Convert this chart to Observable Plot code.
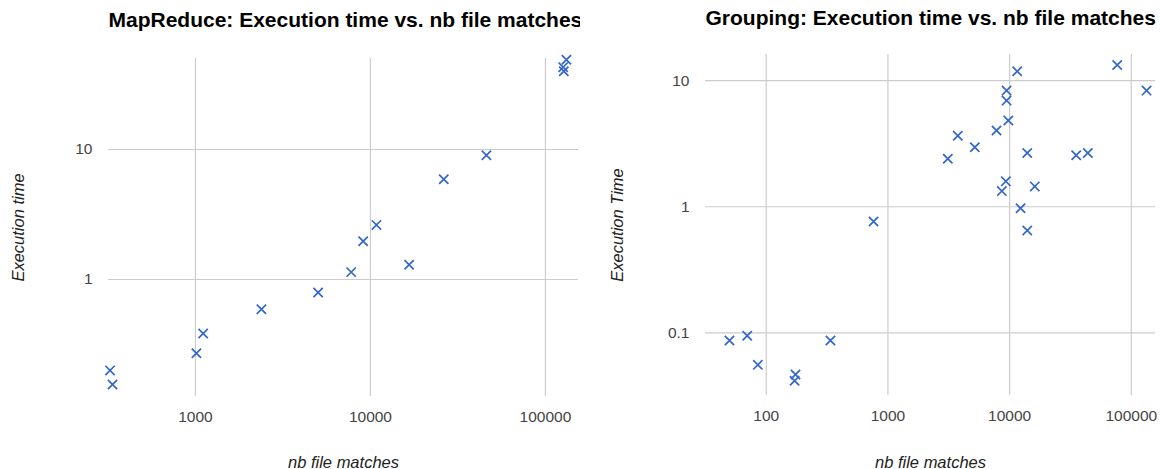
<!DOCTYPE html>
<html>
<head>
<meta charset="utf-8">
<script src="https://cdn.jsdelivr.net/npm/d3@7"></script>
<script src="https://cdn.jsdelivr.net/npm/@observablehq/plot@0.6"></script>
<style>
  html, body { margin: 0; padding: 0; background: #fff; }
  #wrap { display: flex; width: 1160px; height: 469px; }
  #wrap svg { display: block; }
  #wrap svg g[aria-label*="axis"], #wrap svg g[aria-label*="axis"] text { font-size: 15.5px !important; }
</style>
</head>
<body>
<div id="wrap"></div>
<script>
// MapReduce chart data
const mrTitle = "MapReduce: Execution time vs. nb file matches";
const mrYLabel = "Execution time";
const mrXLabel = "nb file matches";
const mrX = [325, 336, 1013, 1107, 2384, 5024, 7762, 9085, 10822, 16630, 26240, 46000, 126300, 127300, 131800];
const mrY = [0.2, 0.156, 0.271, 0.384, 0.591, 0.794, 1.14, 1.97, 2.63, 1.30, 5.91, 9.04, 43, 40, 49];
const mrXTicks = [1000, 10000, 100000];
const mrYTicks = [1, 10];

// Grouping chart data
const grTitle = "Grouping: Execution time vs. nb file matches";
const grYLabel = "Execution Time";
const grXLabel = "nb file matches";
const grX = [11540, 76600, 133400, 9440, 9440, 9750, 7800, 3750, 5175, 3105, 13960, 35240, 43900, 9310, 8630, 16100, 12300, 762, 13960, 49.9, 69.8, 85.3, 174, 171, 337];
const grY = [11.85, 13.3, 8.33, 8.33, 6.94, 4.82, 4.02, 3.65, 2.96, 2.40, 2.67, 2.56, 2.67, 1.59, 1.33, 1.45, 0.973, 0.764, 0.648, 0.087, 0.0949, 0.0558, 0.0468, 0.0417, 0.087];
const grXTicks = [100, 1000, 10000, 100000];
const grYTicks = [0.1, 1, 10];

const FONT = "'Liberation Sans', Arial, Helvetica, sans-serif";
const BLUE = "#3366cc";

function chart({title, xLabel, yLabel, xs, ys, xTicks, yTicks, xDomain, yDomain, margins, titleDy, xLabelDy, yLabelDx}) {
  const rows = xs.map((x, i) => ({x, y: ys[i]}));
  return Plot.plot({
    width: 580,
    height: 469,
    ...margins,
    style: {fontFamily: FONT, fontSize: "15.5px", color: "#444", background: "#fff", overflow: "visible"},
    x: {type: "log", domain: xDomain, ticks: xTicks, tickFormat: d => String(d), tickSize: 0, tickPadding: 14, label: null},
    y: {type: "log", domain: yDomain, ticks: yTicks, tickFormat: d => String(d), tickSize: 0, tickPadding: 16, label: null},
    marks: [
      Plot.ruleX(xTicks, {stroke: "#cccccc", strokeWidth: 1.2}),
      Plot.ruleY(yTicks, {stroke: "#cccccc", strokeWidth: 1.2}),
      Plot.dot(rows, {x: "x", y: "y", symbol: "times", r: 4.3, stroke: BLUE, strokeWidth: 1.7}),
      Plot.text([title], {text: d => d, frameAnchor: "top-left", textAnchor: "start", lineAnchor: "middle", dy: titleDy, fontSize: 21, fontWeight: "bold", fill: "#000"}),
      Plot.text([xLabel], {text: d => d, frameAnchor: "bottom", textAnchor: "middle", lineAnchor: "middle", dy: xLabelDy, fontSize: 16.5, fontStyle: "italic", fill: "#222"}),
      Plot.text([yLabel], {text: d => d, frameAnchor: "left", textAnchor: "middle", lineAnchor: "middle", dx: yLabelDx, rotate: -90, fontSize: 16.5, fontStyle: "italic", fill: "#222"})
    ]
  });
}

const wrap = document.getElementById("wrap");
wrap.appendChild(chart({
  title: mrTitle, xLabel: mrXLabel, yLabel: mrYLabel, xs: mrX, ys: mrY,
  xTicks: mrXTicks, yTicks: mrYTicks,
  xDomain: [318.6, 154500], yDomain: [0.126, 50.1],
  margins: {marginLeft: 108, marginRight: 2, marginTop: 58, marginBottom: 73},
  titleDy: -38, xLabelDy: 66, yLabelDx: -90
}));
wrap.appendChild(chart({
  title: grTitle, xLabel: grXLabel, yLabel: grYLabel, xs: grX, ys: grY,
  xTicks: grXTicks, yTicks: grYTicks,
  xDomain: [31.7, 158000], yDomain: [0.0319, 16.1],
  margins: {marginLeft: 125, marginRight: 5, marginTop: 54, marginBottom: 74},
  titleDy: -36, xLabelDy: 67, yLabelDx: -88
}));
</script>
</body>
</html>
